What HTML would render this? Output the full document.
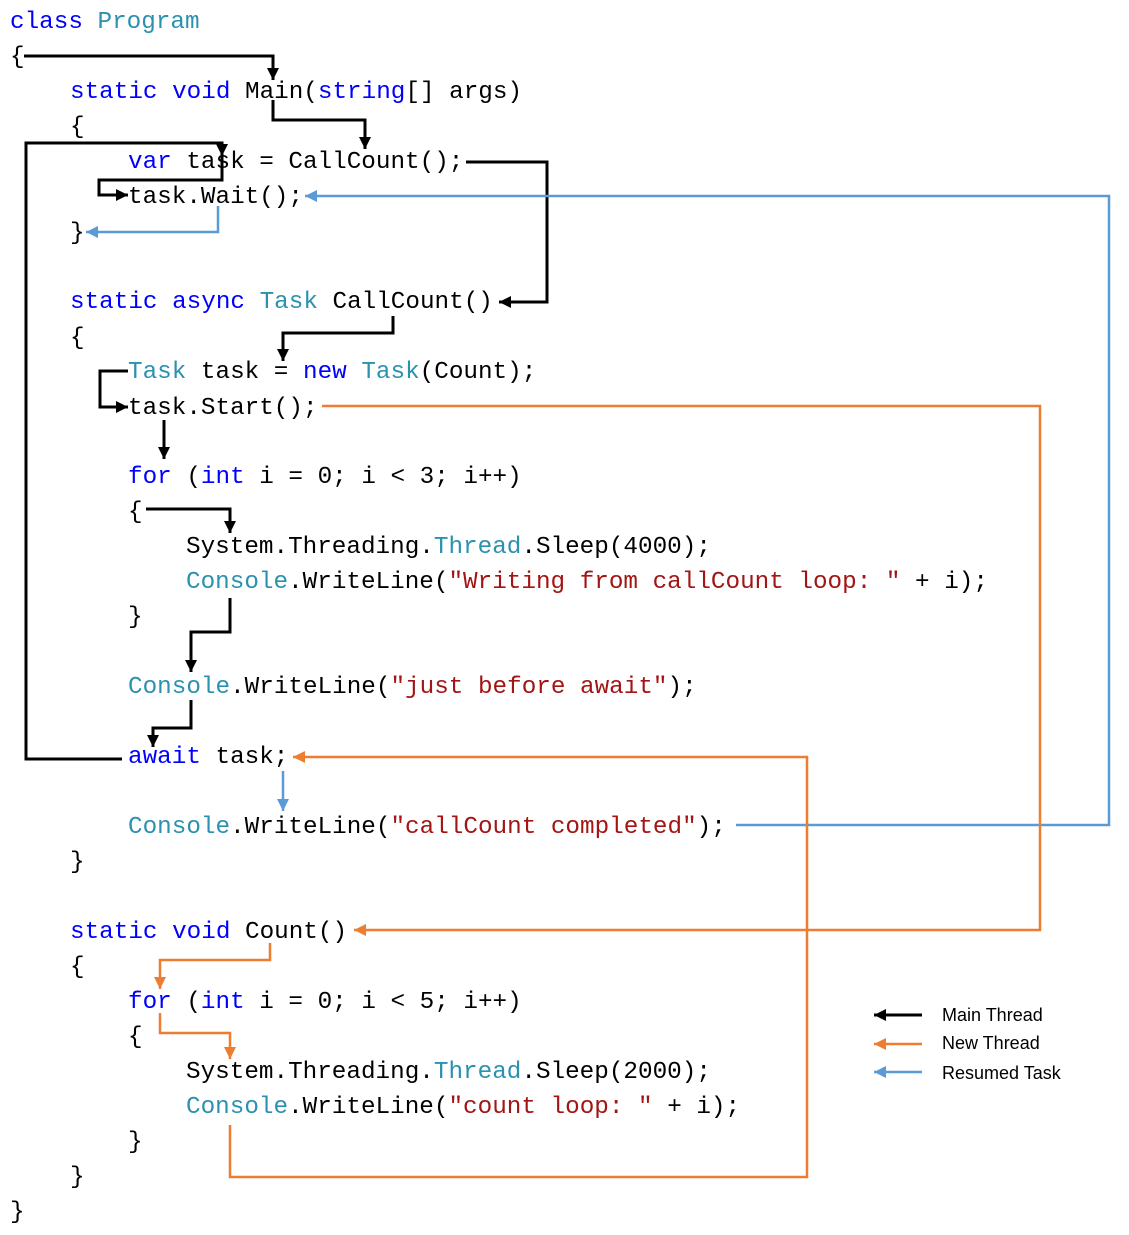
<!DOCTYPE html>
<html><head><meta charset="utf-8"><style>
html,body{margin:0;padding:0;background:#fff;}
svg{display:block;}
text{font-family:"Liberation Mono",monospace;font-size:24.3px;white-space:pre;fill:#000;}
.k{fill:#0000ff}.t{fill:#2b91af}.s{fill:#a31515}
.lg{font-family:"Liberation Sans",sans-serif;font-size:18px;}
</style></head><body>
<svg width="1129" height="1235" viewBox="0 0 1129 1235" xmlns="http://www.w3.org/2000/svg">
<defs>
<marker id="ab" markerUnits="userSpaceOnUse" markerWidth="14" markerHeight="14" refX="12" refY="6" orient="auto"><path d="M0,0 L12,6 L0,12 z" fill="#000"/></marker>
<marker id="ao" markerUnits="userSpaceOnUse" markerWidth="14" markerHeight="14" refX="12" refY="6" orient="auto"><path d="M0,0 L12,6 L0,12 z" fill="#ed7d31"/></marker>
<marker id="al" markerUnits="userSpaceOnUse" markerWidth="14" markerHeight="14" refX="12" refY="6" orient="auto"><path d="M0,0 L12,6 L0,12 z" fill="#5b9bd5"/></marker>
</defs>
<g xml:space="preserve">
<text x="10" y="28"><tspan class="k">class</tspan> <tspan class="t">Program</tspan></text>
<text x="10" y="63">{</text>
<text x="70" y="98"><tspan class="k">static</tspan> <tspan class="k">void</tspan> Main(<tspan class="k">string</tspan>[] args)</text>
<text x="70" y="133">{</text>
<text x="128" y="168"><tspan class="k">var</tspan> task = CallCount();</text>
<text x="128" y="203">task.Wait();</text>
<text x="70" y="239">}</text>
<text x="70" y="308"><tspan class="k">static</tspan> <tspan class="k">async</tspan> <tspan class="t">Task</tspan> CallCount()</text>
<text x="70" y="344">{</text>
<text x="128" y="378"><tspan class="t">Task</tspan> task = <tspan class="k">new</tspan> <tspan class="t">Task</tspan>(Count);</text>
<text x="128" y="414">task.Start();</text>
<text x="128" y="483"><tspan class="k">for</tspan> (<tspan class="k">int</tspan> i = 0; i &lt; 3; i++)</text>
<text x="128" y="518">{</text>
<text x="186" y="553">System.Threading.<tspan class="t">Thread</tspan>.Sleep(4000);</text>
<text x="186" y="588"><tspan class="t">Console</tspan>.WriteLine(<tspan class="s">"Writing from callCount loop: "</tspan> + i);</text>
<text x="128" y="623">}</text>
<text x="128" y="693"><tspan class="t">Console</tspan>.WriteLine(<tspan class="s">"just before await"</tspan>);</text>
<text x="128" y="763"><tspan class="k">await</tspan> task;</text>
<text x="128" y="833"><tspan class="t">Console</tspan>.WriteLine(<tspan class="s">"callCount completed"</tspan>);</text>
<text x="70" y="868">}</text>
<text x="70" y="938"><tspan class="k">static</tspan> <tspan class="k">void</tspan> Count()</text>
<text x="70" y="973">{</text>
<text x="128" y="1008"><tspan class="k">for</tspan> (<tspan class="k">int</tspan> i = 0; i &lt; 5; i++)</text>
<text x="128" y="1043">{</text>
<text x="186" y="1078">System.Threading.<tspan class="t">Thread</tspan>.Sleep(2000);</text>
<text x="186" y="1113"><tspan class="t">Console</tspan>.WriteLine(<tspan class="s">"count loop: "</tspan> + i);</text>
<text x="128" y="1148">}</text>
<text x="70" y="1183">}</text>
<text x="10" y="1218">}</text>
</g>
<g fill="none" stroke="#000" stroke-width="3">
<polyline points="24,56 273,56 273,80" marker-end="url(#ab)"/>
<polyline points="273,100 273,120 365,120 365,149" marker-end="url(#ab)"/>
<polyline points="122,759 26,759 26,143 222,143 222,156" marker-end="url(#ab)"/>
<polyline points="222,156 222,180 99,180 99,195 128,195" marker-end="url(#ab)"/>
<polyline points="466,162 547,162 547,302 499,302" marker-end="url(#ab)"/>
<polyline points="393,316 393,333 283,333 283,361" marker-end="url(#ab)"/>
<polyline points="128,371 100,371 100,407 128,407" marker-end="url(#ab)"/>
<polyline points="164,420 164,459" marker-end="url(#ab)"/>
<polyline points="146,509 230,509 230,533" marker-end="url(#ab)"/>
<polyline points="230,598 230,632 191,632 191,672" marker-end="url(#ab)"/>
<polyline points="191,700 191,728 153,728 153,747" marker-end="url(#ab)"/>
<polyline points="922,1015 874,1015" marker-end="url(#ab)"/>
</g>
<g fill="none" stroke="#5b9bd5" stroke-width="2.5">
<polyline points="218,206 218,232 86,232" marker-end="url(#al)"/>
<polyline points="736,825 1109,825 1109,196 305,196" marker-end="url(#al)"/>
<polyline points="283,771 283,811" marker-end="url(#al)"/>
<polyline points="922,1072 874,1072" marker-end="url(#al)"/>
</g>
<g fill="none" stroke="#ed7d31" stroke-width="2.5">
<polyline points="322,406 1040,406 1040,930 354,930" marker-end="url(#ao)"/>
<polyline points="270,943 270,960 160,960 160,989" marker-end="url(#ao)"/>
<polyline points="160,1013 160,1033 230,1033 230,1059" marker-end="url(#ao)"/>
<polyline points="230,1125 230,1177 807,1177 807,757 293,757" marker-end="url(#ao)"/>
<polyline points="922,1044 874,1044" marker-end="url(#ao)"/>
</g>
<text class="lg" x="942" y="1021">Main Thread</text>
<text class="lg" x="942" y="1049">New Thread</text>
<text class="lg" x="942" y="1079">Resumed Task</text>
</svg>
</body></html>
